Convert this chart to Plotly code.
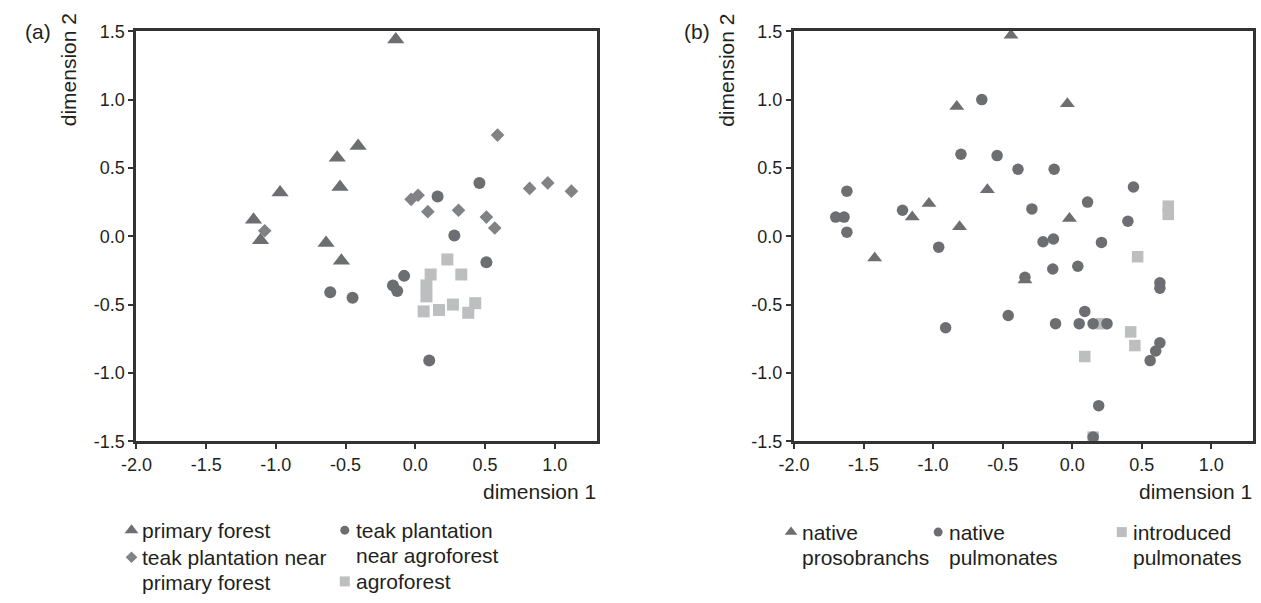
import plotly.graph_objects as go

W, H = 1261, 603

# ---------------- Panel (a) data ----------------
a_categories = ["primary forest", "teak plantation near primary forest",
                "teak plantation near agroforest", "agroforest"]
a_primary_x = [-0.14, -0.41, -0.56, -0.54, -0.97, -1.16, -1.11, -0.64, -0.53]
a_primary_y = [1.44, 0.66, 0.575, 0.36, 0.32, 0.12, -0.03, -0.05, -0.18]
a_teakprim_x = [-1.08, -0.03, 0.02, 0.09, 0.31, 0.51, 0.57, 0.59, 0.82, 0.95, 1.12]
a_teakprim_y = [0.04, 0.27, 0.30, 0.18, 0.19, 0.14, 0.06, 0.74, 0.35, 0.39, 0.33]
a_teakagro_x = [0.46, 0.16, 0.28, 0.51, -0.08, -0.16, -0.13, 0.10, -0.61, -0.45]
a_teakagro_y = [0.39, 0.29, 0.005, -0.19, -0.29, -0.36, -0.40, -0.91, -0.41, -0.45]
a_agro_x = [0.23, 0.11, 0.33, 0.08, 0.08, 0.06, 0.17, 0.27, 0.43, 0.38]
a_agro_y = [-0.17, -0.28, -0.28, -0.36, -0.44, -0.55, -0.54, -0.50, -0.49, -0.56]

# ---------------- Panel (b) data ----------------
b_categories = ["native prosobranchs", "native pulmonates", "introduced pulmonates"]
b_proso_x = [-0.44, -0.83, -0.035, -0.61, -1.03, -1.15, -0.81, -0.02, -1.42, -0.34]
b_proso_y = [1.47, 0.95, 0.97, 0.34, 0.24, 0.14, 0.07, 0.13, -0.16, -0.32]
b_pulm_x = [-0.65, -0.80, -0.54, -0.39, -0.13, 0.44, 0.11, -0.29, 0.40, -1.62,
            -1.70, -1.64, -1.62, -1.22, -0.96, -0.91, -0.21, -0.135, 0.21, 0.04,
            -0.14, -0.34, -0.46, -0.12, 0.09, 0.05, 0.15, 0.25, 0.19, 0.15,
            0.63, 0.63, 0.63, 0.60, 0.56]
b_pulm_y = [1.00, 0.60, 0.59, 0.49, 0.49, 0.36, 0.25, 0.20, 0.11, 0.33,
            0.14, 0.14, 0.03, 0.19, -0.08, -0.67, -0.04, -0.02, -0.045, -0.22,
            -0.24, -0.30, -0.58, -0.64, -0.55, -0.64, -0.64, -0.64, -1.24, -1.47,
            -0.34, -0.38, -0.78, -0.84, -0.91]
b_intro_x = [0.69, 0.69, 0.47, 0.21, 0.42, 0.45, 0.09, 0.15]
b_intro_y = [0.22, 0.16, -0.15, -0.64, -0.70, -0.80, -0.88, -1.47]

x_ticks = [-2.0, -1.5, -1.0, -0.5, 0.0, 0.5, 1.0]
y_ticks = [-1.5, -1.0, -0.5, 0.0, 0.5, 1.0, 1.5]
x_range = [-2.0, 1.3]
y_range = [-1.5, 1.5]

C_TRI = "#6d6e71"
C_CIR = "#6d6e71"
C_DIA = "#808285"
C_SQ = "#bcbec0"
AXC = "#333333"
FONT = "Liberation Sans, Arial, sans-serif"
TXT = "#231f20"

fig = go.Figure()

def add(x, y, sym, col, size, xa, ya):
    fig.add_trace(go.Scatter(x=x, y=y, mode="markers", xaxis=xa, yaxis=ya,
                             marker=dict(symbol=sym, color=col, size=size, line=dict(width=0)),
                             cliponaxis=False, showlegend=False, hoverinfo="x+y"))

add(a_primary_x, a_primary_y, "triangle-up", C_TRI, 15, "x", "y")
add(a_teakagro_x, a_teakagro_y, "circle", C_CIR, 12, "x", "y")
add(a_agro_x, a_agro_y, "square", C_SQ, 12, "x", "y")
add(a_teakprim_x, a_teakprim_y, "diamond", C_DIA, 10.5, "x", "y")

add(b_intro_x, b_intro_y, "square", C_SQ, 11.5, "x2", "y2")
add(b_proso_x, b_proso_y, "triangle-up", C_TRI, 13, "x2", "y2")
add(b_pulm_x, b_pulm_y, "circle", C_CIR, 11.5, "x2", "y2")

def xax(dom, anchor):
    return dict(domain=dom, range=x_range, tickvals=x_ticks,
                ticktext=[f"{v:.1f}" for v in x_ticks], showline=True, linewidth=3,
                linecolor=AXC, mirror=True, ticks="outside", ticklen=5, tickwidth=2,
                tickcolor=AXC, showgrid=False, zeroline=False, anchor=anchor,
                tickfont=dict(family=FONT, size=18, color=TXT), fixedrange=True)

def yax(dom, anchor):
    return dict(domain=dom, range=y_range, tickvals=y_ticks,
                ticktext=[f"{v:.1f}" for v in y_ticks], showline=True, linewidth=3,
                linecolor=AXC, mirror=True, ticks="outside", ticklen=5, tickwidth=2,
                tickcolor=AXC, showgrid=False, zeroline=False, anchor=anchor,
                tickfont=dict(family=FONT, size=18, color=TXT), fixedrange=True)

ydom = [1 - 446 / H, 1 - 22 / H]
fig.update_layout(
    width=W, height=H, margin=dict(l=0, r=0, t=0, b=0),
    paper_bgcolor="white", plot_bgcolor="rgba(0,0,0,0)",
    xaxis=xax([122 / W, 588 / W], "y"), yaxis=yax(ydom, "x"),
    xaxis2=xax([788 / W, 1253 / W], "y2"), yaxis2=yax(ydom, "x2"),
    xaxis3=dict(domain=[0, 1], range=[0, W], visible=False, anchor="y3", fixedrange=True),
    yaxis3=dict(domain=[0, 1], range=[H, 0], visible=False, anchor="x3", fixedrange=True),
    showlegend=False,
)

ann = []
def text(x, y, s, size=21, xanchor="center", yanchor="middle", angle=0):
    ann.append(dict(x=x / W, y=1 - y / H, xref="paper", yref="paper", text=s,
                    showarrow=False, xanchor=xanchor, yanchor=yanchor, textangle=angle,
                    font=dict(family=FONT, size=size, color=TXT)))

text(22, 22, "(a)")
text(54, 62, "dimension 2", angle=-90)
text(589, 498, "dimension 1", xanchor="right")
text(690, 22, "(b)")
text(720, 62, "dimension 2", angle=-90)
text(1254, 498, "dimension 1", xanchor="right")

# legend entries: (label lines, symbol, colour, symbol x, row y, size)
legend_items = [
    ([a_categories[0]], "triangle-up", C_TRI, 117, 538, 12),
    (["teak plantation near", "primary forest"], "diamond", C_DIA, 117, 566, 9),
    (["teak plantation", "near agroforest"], "circle", C_CIR, 333, 538, 9),
    ([a_categories[3]], "square", C_SQ, 333, 591, 10),
    (["native", "prosobranchs"], "triangle-up", C_TRI, 785, 540, 11),
    (["native", "pulmonates"], "circle", C_CIR, 934, 540, 9),
    (["introduced", "pulmonates"], "square", C_SQ, 1120, 540, 10),
]
for lines, sym, col, sx, sy, sz in legend_items:
    fig.add_trace(go.Scatter(x=[sx], y=[sy], mode="markers", xaxis="x3", yaxis="y3",
                             marker=dict(symbol=sym, color=col, size=sz, line=dict(width=0)),
                             cliponaxis=False, showlegend=False, hoverinfo="skip"))
    for i, ln in enumerate(lines):
        text(sx + 9, sy + i * 26, ln, xanchor="left")

fig.update_layout(annotations=ann)
fig.write_html("out.html")
